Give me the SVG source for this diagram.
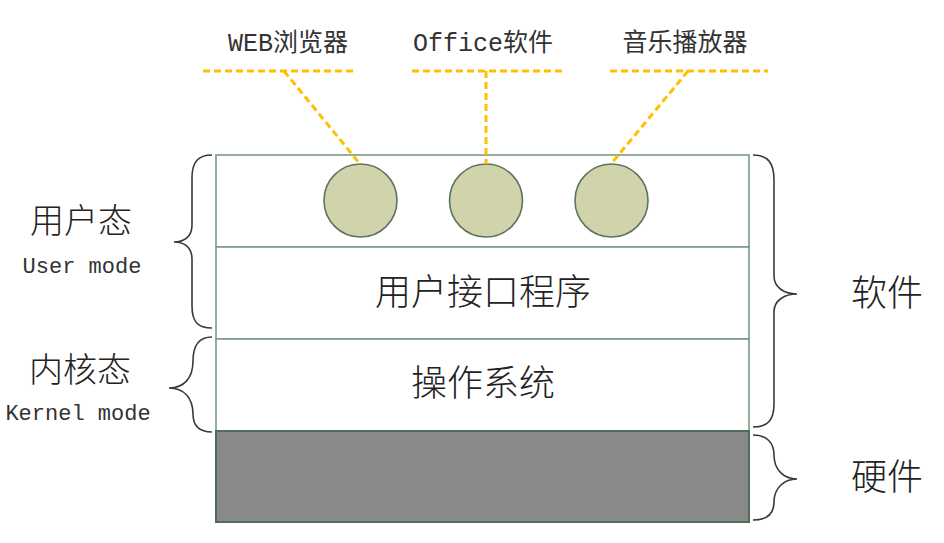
<svg xmlns="http://www.w3.org/2000/svg" width="944" height="543" viewBox="0 0 944 543">
<style>
  .layer { fill: #ffffff; stroke: #7b9a86; stroke-width: 1.6; }
  .hw { fill: #898989; stroke: #4e6e58; stroke-width: 2; }
  .app { fill: #d1d3aa; stroke: #5a765f; stroke-width: 1.6; }
  .lead { fill: none; stroke: #ffc000; stroke-width: 3; stroke-dasharray: 7 4; }
  .brace { fill: none; stroke: #3a3a3a; stroke-width: 1.6; }
  .cjk { font-family: "Noto Sans CJK SC", sans-serif; font-weight: 300; fill: #222222; text-anchor: middle; }
  .mono { font-family: "Liberation Mono", "Noto Sans CJK SC", monospace; font-weight: normal; fill: #333333; text-anchor: middle; }
</style>
<rect width="944" height="543" fill="#ffffff"/>

<g id="layer-apps"><rect class="layer" x="216" y="155" width="533" height="92"/></g>
<g id="layer-ui">
  <rect class="layer" x="216" y="247" width="533" height="92"/>
  <text class="cjk" x="483" y="305" font-size="36">用户接口程序</text>
</g>
<g id="layer-os">
  <rect class="layer" x="216" y="339" width="533" height="92"/>
  <text class="cjk" x="483" y="396" font-size="36">操作系统</text>
</g>
<g id="layer-hw"><rect class="hw" x="216" y="431" width="533" height="91"/></g>

<g id="app-web">
  <circle class="app" cx="360.5" cy="200.5" r="36.5"/>
  <text class="mono" x="288" y="51" font-size="25">WEB浏览器</text>
</g>
<g id="app-office">
  <circle class="app" cx="486" cy="200.5" r="36.5"/>
  <text class="mono" x="483" y="51" font-size="25">Office软件</text>
</g>
<g id="app-music">
  <circle class="app" cx="611.5" cy="200.5" r="36.5"/>
  <text class="mono" x="685" y="51" font-size="25">音乐播放器</text>
</g>

<g id="connectors">
  <line class="lead" x1="203" y1="71" x2="357" y2="71"/>
  <line class="lead" x1="284" y1="71" x2="360" y2="164"/>
  <line class="lead" x1="412" y1="71" x2="565" y2="71"/>
  <line class="lead" x1="486" y1="71" x2="486" y2="164"/>
  <line class="lead" x1="610" y1="71" x2="768" y2="71"/>
  <line class="lead" x1="688" y1="71" x2="611" y2="164"/>
</g>

<g id="brace-user">
  <path class="brace" d="M212,155 C198,155 192,162 192,178 L192,225 C192,236 185,242 174,242 C185,242 192,248 192,259 L192,306 C192,322 198,328 212,328"/>
  <text class="cjk" x="81" y="233" font-size="34">用户态</text>
  <text class="mono" x="82" y="273" font-size="22">User mode</text>
</g>
<g id="brace-kernel">
  <path class="brace" d="M212,337 C198,337 193,346 193,361 C193,378 184,388 169,388 C184,388 193,398 193,414 C193,426 199,432 212,432"/>
  <text class="cjk" x="80" y="382" font-size="34">内核态</text>
  <text class="mono" x="78" y="420" font-size="22">Kernel mode</text>
</g>
<g id="brace-software">
  <path class="brace" d="M753,155 C768,155 774,163 774,180 L774,276 C774,288 785,294 797,294 C785,294 774,300 774,312 L774,404 C774,420 768,427 753,427"/>
  <text class="cjk" x="887" y="306" font-size="36">软件</text>
</g>
<g id="brace-hardware">
  <path class="brace" d="M753,435 C767,435 774,443 774,455 C774,470 784,479 797,479 C784,479 774,488 774,502 C774,514 767,520 753,520"/>
  <text class="cjk" x="887" y="490" font-size="36">硬件</text>
</g>
</svg>
